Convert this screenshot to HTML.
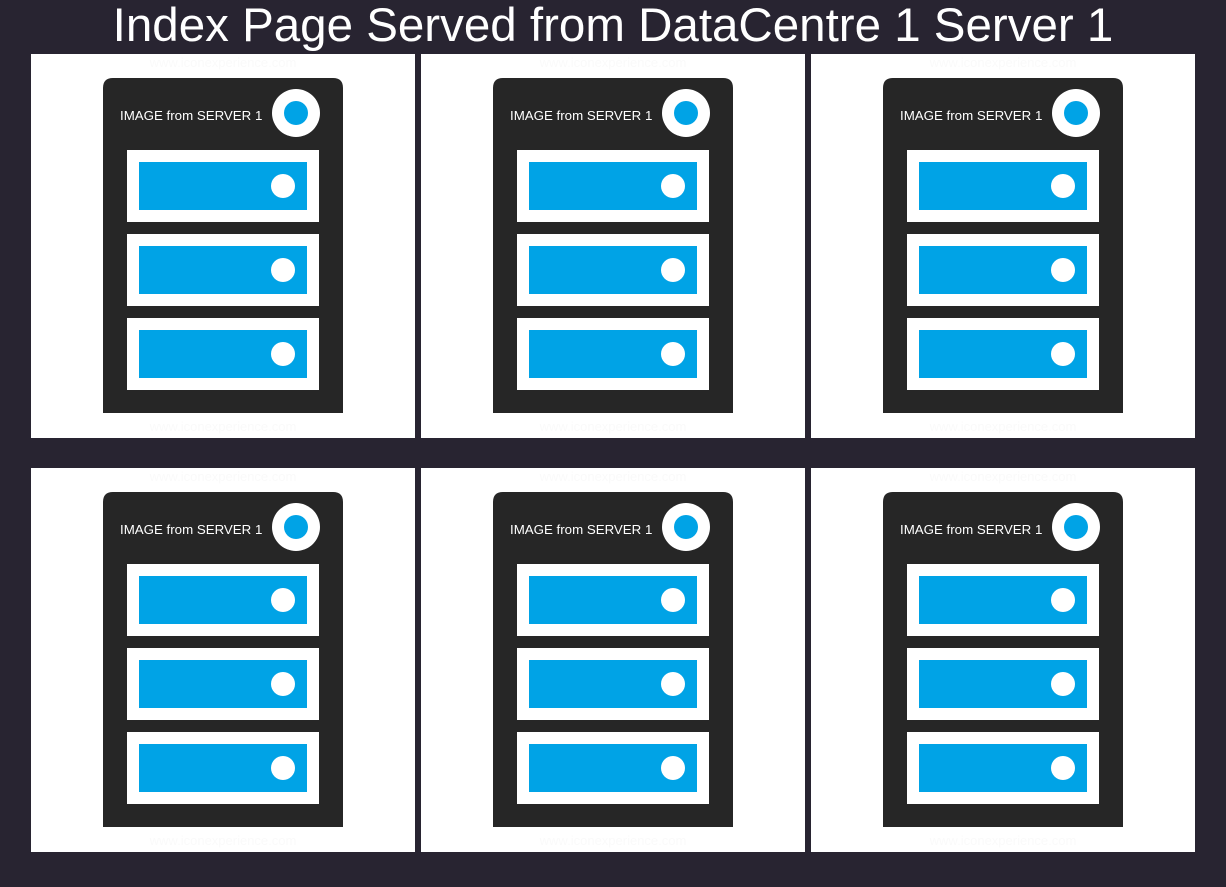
<!DOCTYPE html>
<html><head><meta charset="utf-8"><style>
html,body{margin:0;padding:0;}
body{width:1226px;height:887px;background:#282431;position:relative;overflow:hidden;font-family:"Liberation Sans",sans-serif;}
h1{position:absolute;left:0;top:0;width:1226px;margin:0;text-align:center;color:#fff;font-weight:normal;font-size:47.5px;line-height:52px;}
svg.p{position:absolute;width:384px;height:384px;}
</style></head><body>
<h1>Index Page Served from DataCentre 1 Server 1</h1>
<svg width="0" height="0" style="position:absolute"><defs>
<g id="srv">
<rect x="0" y="0" width="384" height="384" fill="#fff"/>
<text x="192" y="13" text-anchor="middle" font-size="13" fill="#fafafa" font-family="Liberation Sans">www.iconexperience.com</text>
<text x="192" y="377" text-anchor="middle" font-size="13" fill="#fafafa" font-family="Liberation Sans">www.iconexperience.com</text>
<path d="M72 359 V34 Q72 24 82 24 H302 Q312 24 312 34 V359 Z" fill="#262626"/>
<text x="89" y="66" font-size="13.3" fill="#fff" font-family="Liberation Sans">IMAGE from SERVER 1</text>
<circle cx="265" cy="59" r="24" fill="#fff"/><circle cx="265" cy="59" r="12" fill="#00a3e6"/>
<rect x="96" y="96" width="192" height="72" fill="#fff"/><rect x="108" y="108" width="168" height="48" fill="#00a3e6"/><circle cx="252" cy="132" r="12" fill="#fff"/>
<rect x="96" y="180" width="192" height="72" fill="#fff"/><rect x="108" y="192" width="168" height="48" fill="#00a3e6"/><circle cx="252" cy="216" r="12" fill="#fff"/>
<rect x="96" y="264" width="192" height="72" fill="#fff"/><rect x="108" y="276" width="168" height="48" fill="#00a3e6"/><circle cx="252" cy="300" r="12" fill="#fff"/>
</g></defs></svg>
<svg class="p" style="left:31px;top:54px"><use href="#srv"/></svg>
<svg class="p" style="left:421px;top:54px"><use href="#srv"/></svg>
<svg class="p" style="left:811px;top:54px"><use href="#srv"/></svg>
<svg class="p" style="left:31px;top:468px"><use href="#srv"/></svg>
<svg class="p" style="left:421px;top:468px"><use href="#srv"/></svg>
<svg class="p" style="left:811px;top:468px"><use href="#srv"/></svg>
</body></html>
